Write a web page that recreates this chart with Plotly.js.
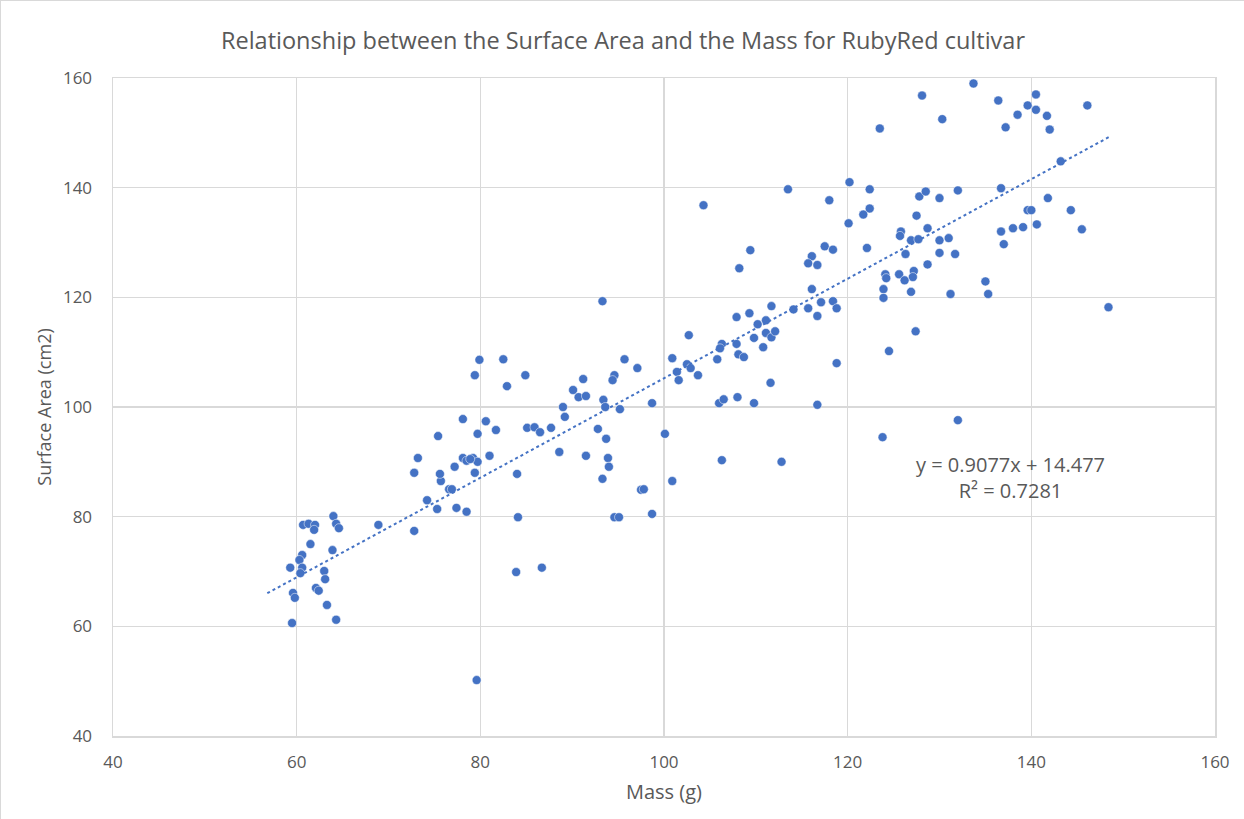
<!DOCTYPE html>
<html>
<head>
<meta charset="utf-8">
<script src="https://cdn.plot.ly/plotly-3.0.1.min.js"></script>
<style>
  html, body { margin: 0; padding: 0; background: #fff; }
  #chart { width: 1244px; height: 819px; box-sizing: border-box; border: 1px solid #d9d9d9; }
</style>
</head>
<body>
<div id="chart"></div>
<script>
// Mass (g)
const mass = [
  60.7, 61.3, 62.0, 61.9, 64.0, 64.3, 64.6, 68.9, 61.5, 63.9,
  60.6, 60.3, 59.3, 60.6, 60.4, 63.0, 63.1, 59.6, 59.8, 62.1,
  62.4, 63.3, 59.5, 64.3, 79.6, 72.8, 83.9, 86.7, 84.1, 74.2,
  75.3, 77.4, 78.5, 76.6, 76.9, 75.7, 75.6, 79.9, 82.5, 79.4,
  84.9, 82.9, 95.7, 97.1, 100.9, 102.5, 102.9, 101.4, 101.6, 103.7,
  94.6, 94.4, 91.2, 90.1, 90.7, 91.5, 89.0, 89.2, 93.4, 93.6,
  95.2, 98.7, 78.1, 80.6, 81.7, 79.7, 75.4, 85.1, 85.9, 86.5,
  87.7, 92.8, 93.7, 100.1, 73.2, 72.8, 77.2, 78.1, 78.5, 79.2,
  79.7, 78.9, 81.0, 79.4, 84.0, 88.6, 91.5, 93.9, 94.0, 93.3,
  97.5, 97.8, 94.6, 95.1, 98.7, 100.9, 102.7, 105.8, 106.3, 106.1,
  107.9, 108.1, 108.7, 109.8, 110.8, 111.1, 111.7, 112.1, 118.8, 124.5,
  127.4, 111.6, 106.0, 106.5, 108.0, 109.8, 116.7, 106.3, 112.8, 123.8,
  132.0, 104.3, 113.5, 120.2, 118.0, 120.1, 109.4, 108.2, 117.5, 118.4,
  116.1, 115.7, 116.7, 116.1, 93.3, 111.7, 114.1, 115.7, 117.1, 118.4,
  118.8, 116.7, 107.9, 109.3, 110.2, 111.1, 133.7, 128.1, 136.4, 140.5,
  139.6, 140.5, 138.5, 141.7, 146.1, 130.3, 123.5, 137.2, 142.0, 143.2,
  122.4, 132.0, 136.7, 127.8, 128.5, 130.0, 141.8, 144.3, 139.6, 140.0,
  122.4, 121.7, 127.5, 128.7, 125.8, 125.7, 126.9, 127.7, 130.0, 131.0,
  136.7, 137.0, 138.0, 139.1, 140.6, 145.5, 122.1, 126.3, 130.0, 131.7,
  128.7, 124.1, 124.2, 125.6, 127.2, 127.1, 126.2, 135.0, 123.9, 123.9,
  126.9, 131.2, 135.3, 148.4
];
// Surface Area (cm2)
const area = [
  78.5, 78.7, 78.5, 77.6, 80.1, 78.7, 77.9, 78.5, 75.0, 73.9,
  73.0, 72.1, 70.7, 70.7, 69.7, 70.1, 68.6, 66.1, 65.2, 67.0,
  66.5, 63.9, 60.6, 61.2, 50.2, 77.4, 69.9, 70.7, 79.9, 83.0,
  81.4, 81.6, 80.9, 85.0, 85.0, 86.5, 87.8, 108.6, 108.7, 105.8,
  105.8, 103.8, 108.7, 107.1, 108.9, 107.8, 107.1, 106.4, 104.9, 105.8,
  105.8, 104.9, 105.1, 103.1, 101.8, 102.0, 100.0, 98.2, 101.3, 100.0,
  99.6, 100.7, 97.8, 97.4, 95.8, 95.1, 94.7, 96.2, 96.3, 95.4,
  96.2, 96.0, 94.2, 95.1, 90.7, 88.0, 89.1, 90.7, 90.2, 90.7,
  90.0, 90.5, 91.1, 88.0, 87.8, 91.8, 91.1, 90.7, 89.1, 86.9,
  84.9, 85.0, 79.9, 79.9, 80.5, 86.5, 113.1, 108.7, 111.5, 110.7,
  111.5, 109.6, 109.1, 112.6, 110.9, 113.5, 112.7, 113.8, 108.0, 110.2,
  113.8, 104.4, 100.7, 101.4, 101.8, 100.7, 100.4, 90.3, 90.0, 94.5,
  97.6, 136.8, 139.7, 141.0, 137.7, 133.5, 128.6, 125.3, 129.3, 128.7,
  127.5, 126.2, 125.9, 121.5, 119.3, 118.4, 117.8, 118.0, 119.1, 119.3,
  118.0, 116.6, 116.4, 117.1, 115.1, 115.8, 159.0, 156.8, 155.9, 157.0,
  155.0, 154.2, 153.3, 153.1, 155.0, 152.5, 150.8, 151.0, 150.6, 144.8,
  139.7, 139.5, 139.9, 138.4, 139.3, 138.1, 138.1, 135.9, 135.9, 135.9,
  136.2, 135.1, 134.9, 132.6, 132.0, 131.2, 130.4, 130.6, 130.4, 130.8,
  132.0, 129.7, 132.6, 132.8, 133.3, 132.4, 129.0, 127.9, 128.1, 127.9,
  126.0, 124.2, 123.5, 124.2, 124.8, 123.7, 123.1, 122.9, 121.5, 119.9,
  121.0, 120.6, 120.6, 118.2
];
// Linear trendline shown on the chart: y = 0.9077x + 14.477
const slope = 0.9077;
const intercept = 14.477;
const trendX = [56.8, 148.6];
const trendY = trendX.map(x => slope * x + intercept);

const xTicks = [40, 60, 80, 100, 120, 140, 160];
const yTicks = [40, 60, 80, 100, 120, 140, 160];

const FONT = '"Open Sans", "Noto Sans", sans-serif';
const GREY = '#595959';
const GRID = '#d9d9d9';

const data = [
  {
    x: mass, y: area, type: 'scatter', mode: 'markers',
    marker: { color: '#4472C4', size: 9, line: { color: '#ffffff', width: 0.5 } },
    hoverinfo: 'x+y', showlegend: false
  },
  {
    x: trendX, y: trendY, type: 'scatter', mode: 'lines',
    line: { color: '#4472C4', width: 2, dash: 'dot' },
    hoverinfo: 'skip', showlegend: false
  }
];

const layout = {
  width: 1244, height: 819,
  paper_bgcolor: '#ffffff', plot_bgcolor: '#ffffff',
  margin: { l: 112, r: 30, t: 77, b: 84, pad: 0 },
  font: { family: FONT, color: GREY, size: 16 },
  title: {
    text: 'Relationship between the Surface Area and the Mass for RubyRed cultivar',
    font: { family: FONT, size: 23.5, color: GREY },
    x: 0.5, xanchor: 'center', y: 0.951, yanchor: 'middle'
  },
  xaxis: {
    range: [40, 160], tickvals: xTicks, ticktext: xTicks.map(String),
    showgrid: true, gridcolor: GRID, gridwidth: 1.5,
    zeroline: false, showline: true, linecolor: GRID, linewidth: 1.5, mirror: true,
    ticks: '', ticklabelstandoff: 10, tickfont: { family: FONT, size: 17, color: GREY },
    title: { text: 'Mass (g)', font: { family: FONT, size: 20, color: GREY }, standoff: 13 }
  },
  yaxis: {
    range: [40, 160], tickvals: yTicks, ticktext: yTicks.map(String),
    showgrid: true, gridcolor: GRID, gridwidth: 1.5,
    zeroline: false, showline: true, linecolor: GRID, linewidth: 1.5, mirror: true,
    ticks: '', ticklabelstandoff: 16, tickfont: { family: FONT, size: 17, color: GREY },
    title: { text: 'Surface Area (cm2)', font: { family: FONT, size: 18, color: GREY }, standoff: 6 }
  },
  annotations: [
    {
      xref: 'paper', yref: 'paper', x: 0.814, y: 0.393,
      xanchor: 'center', yanchor: 'middle', showarrow: false, align: 'center',
      text: 'y = 0.9077x + 14.477<br>R² = 0.7281',
      font: { family: FONT, size: 20, color: GREY }
    }
  ]
};

Plotly.newPlot('chart', data, layout, { displayModeBar: false, staticPlot: true });
</script>
</body>
</html>
